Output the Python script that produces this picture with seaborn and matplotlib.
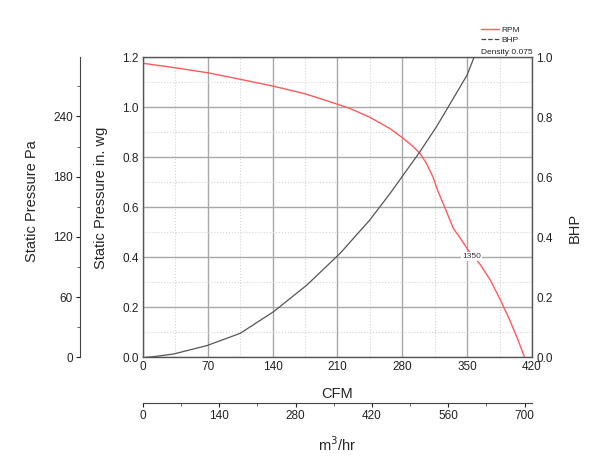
import numpy as np
import matplotlib
matplotlib.use('Agg')
import matplotlib.pyplot as plt
from matplotlib.lines import Line2D
from matplotlib.ticker import MultipleLocator, FormatStrFormatter
import seaborn as sns

# Fan curve data
cfm_sp = [0, 35, 70, 105, 140, 175, 202, 223, 245, 267, 281, 292, 299, 306, 313, 318,
          324, 330, 335, 342, 351, 364, 375, 386, 396, 405, 412]
static_pressure = [1.176, 1.158, 1.138, 1.112, 1.085, 1.054, 1.022, 0.996, 0.96, 0.914, 0.876,
                   0.842, 0.816, 0.776, 0.722, 0.669, 0.616, 0.562, 0.516, 0.48, 0.429, 0.372,
                   0.309, 0.229, 0.149, 0.069, 0.0]

cfm_bhp = [3, 11, 33, 69, 105, 141, 177, 213, 245, 267, 299, 317, 332, 350, 360]
bhp = [0.0, 0.002, 0.011, 0.039, 0.08, 0.152, 0.241, 0.347, 0.458, 0.547, 0.685, 0.769,
       0.847, 0.941, 1.02]

rpm_label = '1350'
density_label = 'Density 0.075'

sns.set_style('white')
plt.rcParams['font.family'] = ['Liberation Sans', 'DejaVu Sans']

fig = plt.figure(figsize=(6, 4.62), dpi=100)
ax = fig.add_axes([0.2383, 0.2266, 0.6483, 0.6494])

# main curves
sns.lineplot(x=cfm_sp, y=static_pressure, ax=ax, color='#ff5a5a', lw=1.0)
ax.set_xlim(0, 420)
ax.set_ylim(0, 1.2)
ax.xaxis.set_major_locator(MultipleLocator(70))
ax.xaxis.set_minor_locator(MultipleLocator(35))
ax.yaxis.set_major_locator(MultipleLocator(0.2))
ax.yaxis.set_minor_locator(MultipleLocator(0.1))
ax.yaxis.set_major_formatter(FormatStrFormatter('%.1f'))
ax.grid(which='major', color='#a8a8a8', lw=1.0, ls='-')
ax.grid(which='minor', color='#d4d4d4', lw=0.8, ls=':')
ax.set_axisbelow(True)
ax.tick_params(which='both', length=0, labelsize=8.5, pad=3, colors='#222222')
for sp in ax.spines.values():
    sp.set_color('#555555')
    sp.set_linewidth(1.0)
ax.set_xlabel('CFM', fontsize=10.5)
ax.xaxis.set_label_coords(0.499, -0.098)
ax.set_ylabel('Static Pressure in. wg', fontsize=10.5)
ax.yaxis.set_label_coords(-0.09, 0.53)

ax.text(354.5, 0.402, rpm_label, fontsize=6, color='#333333', ha='center', va='center',
        bbox=dict(facecolor='white', edgecolor='none', pad=0.6))

# BHP axis on the right
ax2 = ax.twinx()
sns.lineplot(x=cfm_bhp, y=bhp, ax=ax2, color='#555555', lw=0.9)
ax2.set_ylim(0, 1.0)
ax2.yaxis.set_major_locator(MultipleLocator(0.2))
ax2.yaxis.set_major_formatter(FormatStrFormatter('%.1f'))
ax2.tick_params(length=0, labelsize=8.5, pad=3, colors='#222222')
ax2.grid(False)
for sp in ax2.spines.values():
    sp.set_visible(False)
ax2.set_ylabel('BHP', fontsize=10.5, rotation=90)
ax2.yaxis.set_label_coords(1.093, 0.43)

# Pa axis offset to the left
pa_max = 1.2 * 249.09
ax3 = ax.twinx()
ax3.set_ylim(0, pa_max)
for name, sp in ax3.spines.items():
    sp.set_visible(name == 'left')
ax3.spines['left'].set_position(('axes', -0.162))
ax3.spines['left'].set_color('#444444')
ax3.yaxis.set_ticks_position('left')
ax3.yaxis.set_label_position('left')
ax3.yaxis.set_major_locator(MultipleLocator(60))
ax3.yaxis.set_minor_locator(MultipleLocator(30))
ax3.tick_params(which='major', length=3, labelsize=8.5, pad=2, colors='#222222')
ax3.tick_params(which='minor', length=2, color='#444444')
ax3.set_ylabel('Static Pressure Pa', fontsize=10.5)
ax3.yaxis.set_label_coords(-0.267, 0.52)
ax3.grid(False)

# m3/hr axis offset below
m3_max = 420 * 1.699
ax4 = ax.twiny()
ax4.set_xlim(0, m3_max)
for name, sp in ax4.spines.items():
    sp.set_visible(name == 'bottom')
ax4.spines['bottom'].set_position(('axes', -0.152))
ax4.spines['bottom'].set_color('#444444')
ax4.xaxis.set_ticks_position('bottom')
ax4.xaxis.set_label_position('bottom')
ax4.xaxis.set_major_locator(MultipleLocator(140))
ax4.xaxis.set_minor_locator(MultipleLocator(70))
ax4.tick_params(which='major', length=3, labelsize=8.5, pad=2, colors='#222222')
ax4.tick_params(which='minor', length=2, color='#444444')
ax4.set_xlabel('m$^3$/hr', fontsize=10.5)
ax4.xaxis.set_label_coords(0.499, -0.259)
ax4.grid(False)

# legend
handles = [Line2D([], [], color='#ff5a5a', lw=1.0),
           Line2D([], [], color='#444444', lw=0.9, ls='--')]
fig.legend(handles, ['RPM', 'BHP'], loc='upper left', bbox_to_anchor=(481 / 600, 1 - 26 / 462),
           frameon=False, fontsize=6, handlelength=2.1, handletextpad=0.35,
           labelspacing=0.25, borderpad=0, borderaxespad=0)
fig.text(481 / 600, 1 - 52 / 462, density_label, fontsize=6, color='#222222', va='center')

fig.savefig('out.png', dpi=100)
